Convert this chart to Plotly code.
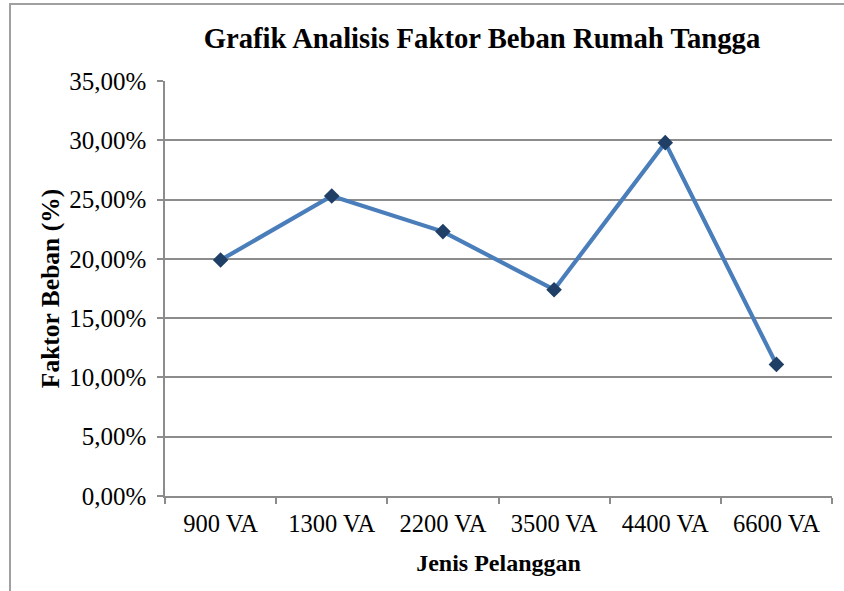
import plotly.graph_objects as go

categories = ["900 VA", "1300 VA", "2200 VA", "3500 VA", "4400 VA", "6600 VA"]
faktor_beban = [0.199, 0.253, 0.223, 0.174, 0.298, 0.111]

W, H = 844, 591
ml, mr, mt, mb = 165, 12, 81, 95
pw, ph = W - ml - mr, H - mt - mb

fig = go.Figure()
fig.add_trace(go.Scatter(
    x=categories, y=faktor_beban, mode="lines+markers",
    line=dict(color="#4a7ebb", width=4.2),
    marker=dict(symbol="diamond", size=12, color="#1f3f66",
                line=dict(color="#1f3f66", width=0)),
    showlegend=False,
))

serif = "Liberation Serif, Times New Roman, serif"
grey = "#8c8c8c"

fig.update_layout(
    width=W, height=H,
    margin=dict(l=ml, r=mr, t=mt, b=mb, autoexpand=False),
    paper_bgcolor="white", plot_bgcolor="white",
    separators=",.",
    font=dict(family=serif, size=24, color="#000000"),
    title=dict(text="<b>Grafik Analisis Faktor Beban Rumah Tangga</b>",
               font=dict(family=serif, size=28.7, color="#000000"),
               x=482 / W, xanchor="center", xref="container",
               y=1 - 38 / H, yanchor="middle", yref="container"),
    xaxis=dict(
        type="category", range=[-0.5, 5.5],
        showline=True, linecolor=grey, linewidth=1.5,
        ticks="outside", tickson="boundaries", ticklen=6, tickcolor=grey, tickwidth=1.5,
        ticklabelstandoff=5,
        showgrid=False, zeroline=False,
        tickfont=dict(family=serif, size=24.5, color="#000000"),
        title=dict(text="<b>Jenis Pelanggan</b>", standoff=18,
                   font=dict(family=serif, size=24, color="#000000")),
    ),
    yaxis=dict(
        range=[0, 0.35], dtick=0.05, tick0=0, tickformat=".2%",
        showline=True, linecolor=grey, linewidth=1.5,
        ticks="outside", ticklen=6, tickcolor=grey, tickwidth=1.5,
        ticklabelstandoff=6,
        showgrid=True, gridcolor=grey, gridwidth=1.5, zeroline=False,
        tickfont=dict(family=serif, size=25, color="#000000"),
        title=dict(text="<b>Faktor Beban (%)</b>", standoff=2,
                   font=dict(family=serif, size=25.5, color="#000000")),
    ),
    shapes=[dict(
        type="rect", xref="paper", yref="paper",
        x0=(10 - ml) / pw, x1=1.2,
        y0=-0.5, y1=1 + (mt - 4) / ph,
        line=dict(color="#a0a0a0", width=2), fillcolor="rgba(0,0,0,0)",
        layer="below",
    )],
)

fig.write_html("out.html", config={"displayModeBar": False},
               post_script="document.body.style.margin='0';document.body.style.overflow='hidden';")
